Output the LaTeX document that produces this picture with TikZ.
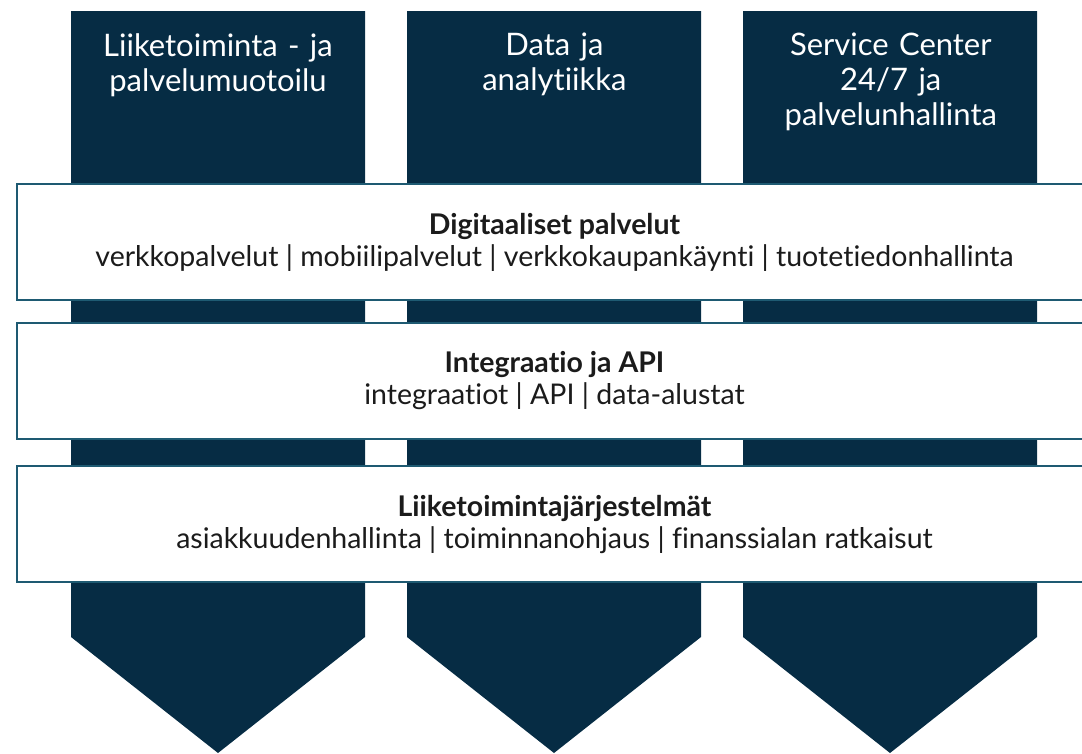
\documentclass[tikz,border=0pt]{standalone}
\usepackage{fontspec}
\setmainfont[Ligatures=NoCommon]{Lato}
\usetikzlibrary{positioning}
\definecolor{navy}{HTML}{062C44}
\definecolor{bandline}{HTML}{1E5A72}
\definecolor{ink}{HTML}{1B1B1B}

\begin{document}
\begin{tikzpicture}[x=1pt,y=-1pt,
  pillar/.style={fill=navy},
  title/.style={text=white,font=\fontsize{31}{35}\selectfont,align=center,text width=290pt,inner sep=0pt,anchor=north},
  band/.style={draw=bandline,line width=2pt,fill=white,minimum width=1075pt,minimum height=116pt,align=center,text=ink,font=\fontsize{28.5}{32}\selectfont}]
\useasboundingbox (0,0) rectangle (1082,753);

\fill[pillar] (71,11) -- (365,11) -- (365,637) -- (218,753) -- (71,637) -- cycle;
\fill[pillar] (407,11) -- (701,11) -- (701,637) -- (554,753) -- (407,637) -- cycle;
\fill[pillar] (743,11) -- (1037,11) -- (1037,637) -- (890,753) -- (743,637) -- cycle;

\node[title] (t1) at (218,33) {Liiketoiminta - ja\\palvelumuotoilu};
\node[title] (t2) [right=46pt of t1.north east, anchor=north west] {Data ja\\analytiikka};
\node[title] (t3) [right=46pt of t2.north east, anchor=north west] {Service Center\\24/7 ja\\palvelunhallinta};

\node[band] (b1) at (554.5,242) {\textbf{Digitaaliset palvelut}\\verkkopalvelut | mobiilipalvelut | verkkokaupankäynti | tuotetiedonhallinta};
\node[band] (b2) [below=21pt of b1] {\textbf{Integraatio ja API}\\integraatiot | API | data-alustat};
\node[band] (b3) [below=25pt of b2] {\textbf{Liiketoimintajärjestelmät}\\asiakkuudenhallinta | toiminnanohjaus | finanssialan ratkaisut};
\end{tikzpicture}
\end{document}
